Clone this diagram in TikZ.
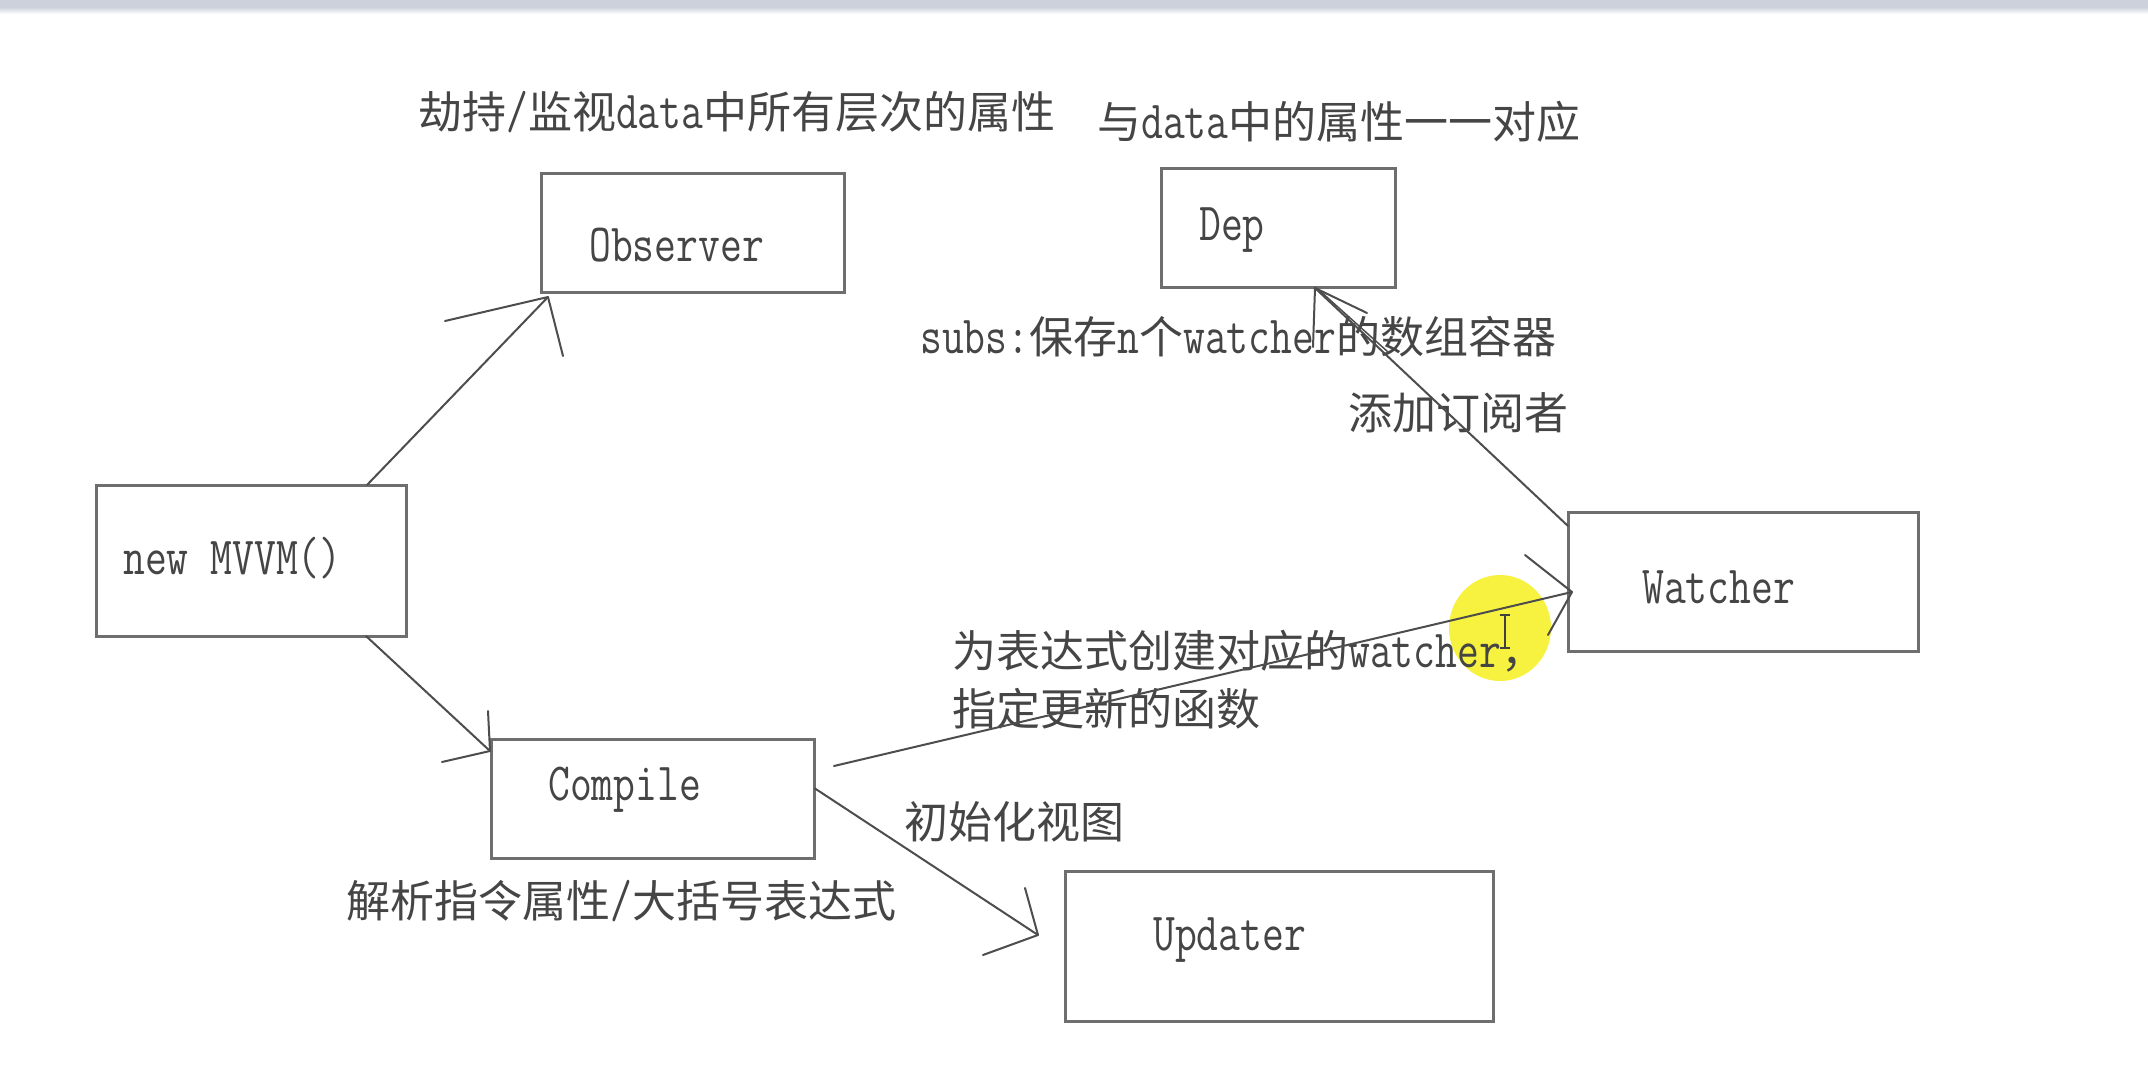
\documentclass[tikz,border=0pt]{standalone}
\usepackage{fontspec}
\setmainfont{Latin Modern Mono}[Scale=1.22,FakeStretch=0.79]
\newfontfamily\cjk{Noto Sans CJK SC}
\newcommand\zh[1]{{\cjk #1}}
\usetikzlibrary{calc}
\definecolor{boxgray}{HTML}{6E6E6E}
\definecolor{linegray}{HTML}{4D4D4D}
\definecolor{txtgray}{HTML}{454545}
\definecolor{bandgray}{HTML}{CCD1DC}
\definecolor{hilite}{HTML}{F7F02C}
\begin{document}
\begin{tikzpicture}[x=1pt,y=-1pt,
  box/.style={draw=boxgray, line width=3pt, inner sep=0pt, outer sep=0pt},
  lbl/.style={anchor=base west, inner sep=0pt, text=txtgray, font=\fontsize{44}{50}\selectfont},
  conn/.style={draw=linegray, line width=2pt, line cap=round, line join=round}]
\useasboundingbox (0,0) rectangle (2148,1076);
\fill[white] (0,0) rectangle (2148,1076);
\shade[top color=bandgray, bottom color=white] (0,7) rectangle (2148,14);
\fill[bandgray] (0,0) rectangle (2148,7);

% highlight circle (mouse cursor)
\fill[hilite, opacity=0.9] (1500,628) ellipse [x radius=51, y radius=53];

% boxes
\node[box, minimum width=303pt, minimum height=119pt] (obs) at (692.5,232.5) {};
\node[box, minimum width=234pt, minimum height=119pt] (dep) at (1278,227.5) {};
\node[box, minimum width=350pt, minimum height=139pt] (wat) at (1743,581.5) {};
\node[box, minimum width=310pt, minimum height=151pt] (mvvm) at (251,560.5) {};
\node[box, minimum width=323pt, minimum height=119pt] (cmp) at (652.5,798.5) {};
\node[box, minimum width=428pt, minimum height=150pt] (upd) at (1279,946) {};

% box labels
\node[lbl] (obsl) at (589,261) {Observer};
\node[lbl] (depl) at (1199,240) {Dep};
\node[lbl] (watl) at (1642,603) {Watcher};
\node[lbl] (mvvml) at (123,574) {new MVVM()};
\node[lbl] (cmpl) at (548,800) {Compile};
\node[lbl] (updl) at (1153,950) {Updater};

% annotations
\node[lbl] (t1) at (418,128) {\zh{劫持}/\zh{监视}data\zh{中所有层次的属性}};
\node[lbl] (t2) at (1097,138) {\zh{与}data\zh{中的属性一一对应}};
\node[lbl] (t3) at (920,353) {subs:\zh{保存}n\zh{个}watcher\zh{的数组容器}};
\node[lbl] (t4) at (1348,429) {\zh{添加订阅者}};
\node[lbl] (t5) at (952,667) {\zh{为表达式创建对应的}watcher\zh{，}};
\node[lbl] (t6) at (952,725) {\zh{指定更新的函数}};
\node[lbl] (t7) at (904,838) {\zh{初始化视图}};
\node[lbl] (t8) at (346,917) {\zh{解析指令属性}/\zh{大括号表达式}};

% arrow tips
\coordinate (tipA) at ($(obs.south west)+(7,5)$);
\coordinate (tipB) at ($(cmp.north west)+(-1,12)$);
\coordinate (tipC) at ($(wat.north west)+(4,80)$);
\coordinate (tipD) at ($(upd.west)+(-27,-11)$);
\coordinate (tipE) at ($(dep.south)+(37,1)$);

% connectors
\draw[conn] ($(mvvm.north east)+(-39,0)$) -- (tipA);
\draw[conn] (445,321) -- (tipA) -- (563,356);

\draw[conn] ($(mvvm.south east)+(-40,0)$) -- (tipB);
\draw[conn] (442,762) -- (tipB) -- (488,711);

\draw[conn] ($(cmp.north east)+(20,27)$) -- (tipC);
\draw[conn] (1525,555) -- (tipC) -- (1548,635);

\draw[conn] ($(cmp.east)+(1,-10)$) -- (tipD);
\draw[conn] (1025,888) -- (tipD) -- (983,955);

\draw[conn] ($(wat.north west)+(0,14)$) -- (tipE);
\draw[conn] (1313,347) -- (tipE) -- (1367,313);
\draw[conn, line width=1.5pt] ($(tipE)+(5,3)$) -- (1388,352);

% text cursor (I-beam)
\draw[black!75, line width=1.3pt] (1505,615) -- (1505,648);
\draw[black!75, line width=1.1pt] (1500,615) -- (1510,615) (1500,648) -- (1510,648);
\end{tikzpicture}
\end{document}
